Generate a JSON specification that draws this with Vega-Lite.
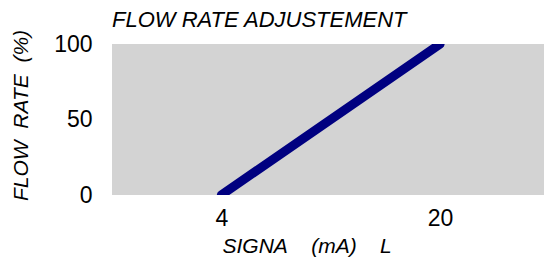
{
  "$schema": "https://vega.github.io/schema/vega-lite/v6.json",
  "width": 432,
  "height": 151,
  "autosize": {"type": "none"},
  "padding": {"left": 112, "top": 44, "right": 1, "bottom": 69},
  "background": "white",
  "title": {
    "text": "FLOW RATE ADJUSTEMENT",
    "anchor": "start",
    "frame": "group",
    "font": "Liberation Sans",
    "fontSize": 22,
    "fontStyle": "italic",
    "fontWeight": "normal",
    "color": "black",
    "baseline": "alphabetic",
    "offset": -20
  },
  "config": {
    "view": {"fill": "#d3d3d3", "stroke": null},
    "axis": {
      "grid": false,
      "domain": false,
      "ticks": false,
      "tickSize": 0,
      "labelFont": "Liberation Sans",
      "labelFontSize": 23,
      "labelColor": "black",
      "titleFont": "Liberation Sans",
      "titleFontSize": 21,
      "titleFontStyle": "italic",
      "titleFontWeight": "normal",
      "titleColor": "black"
    }
  },
  "data": {
    "values": [
      {"signal": 4, "flow": 0},
      {"signal": 20, "flow": 100}
    ]
  },
  "mark": {"type": "line", "color": "#000080", "strokeWidth": 9, "strokeCap": "round", "clip": true},
  "encoding": {
    "x": {
      "field": "signal",
      "type": "quantitative",
      "scale": {"domain": [-4, 27.6], "nice": false, "zero": false},
      "axis": {
        "values": [4, 20],
        "labelBaseline": "alphabetic",
        "labelPadding": 30,
        "labelFlush": false,
        "title": "SIGNA\u00a0\u00a0\u00a0\u00a0(mA)\u00a0\u00a0\u00a0\u00a0L",
        "titleAnchor": "start",
        "titleAlign": "left",
        "titleBaseline": "alphabetic",
        "titleX": 110,
        "titleY": 57
      }
    },
    "y": {
      "field": "flow",
      "type": "quantitative",
      "scale": {"domain": [0, 100], "nice": false},
      "axis": {
        "values": [0, 50, 100],
        "labelPadding": 20,
        "title": "FLOW\u00a0\u00a0RATE\u00a0\u00a0(%)",
        "titleAngle": -90,
        "titleAlign": "center",
        "titleBaseline": "middle",
        "titleX": -91,
        "titleY": 71
      }
    }
  }
}
